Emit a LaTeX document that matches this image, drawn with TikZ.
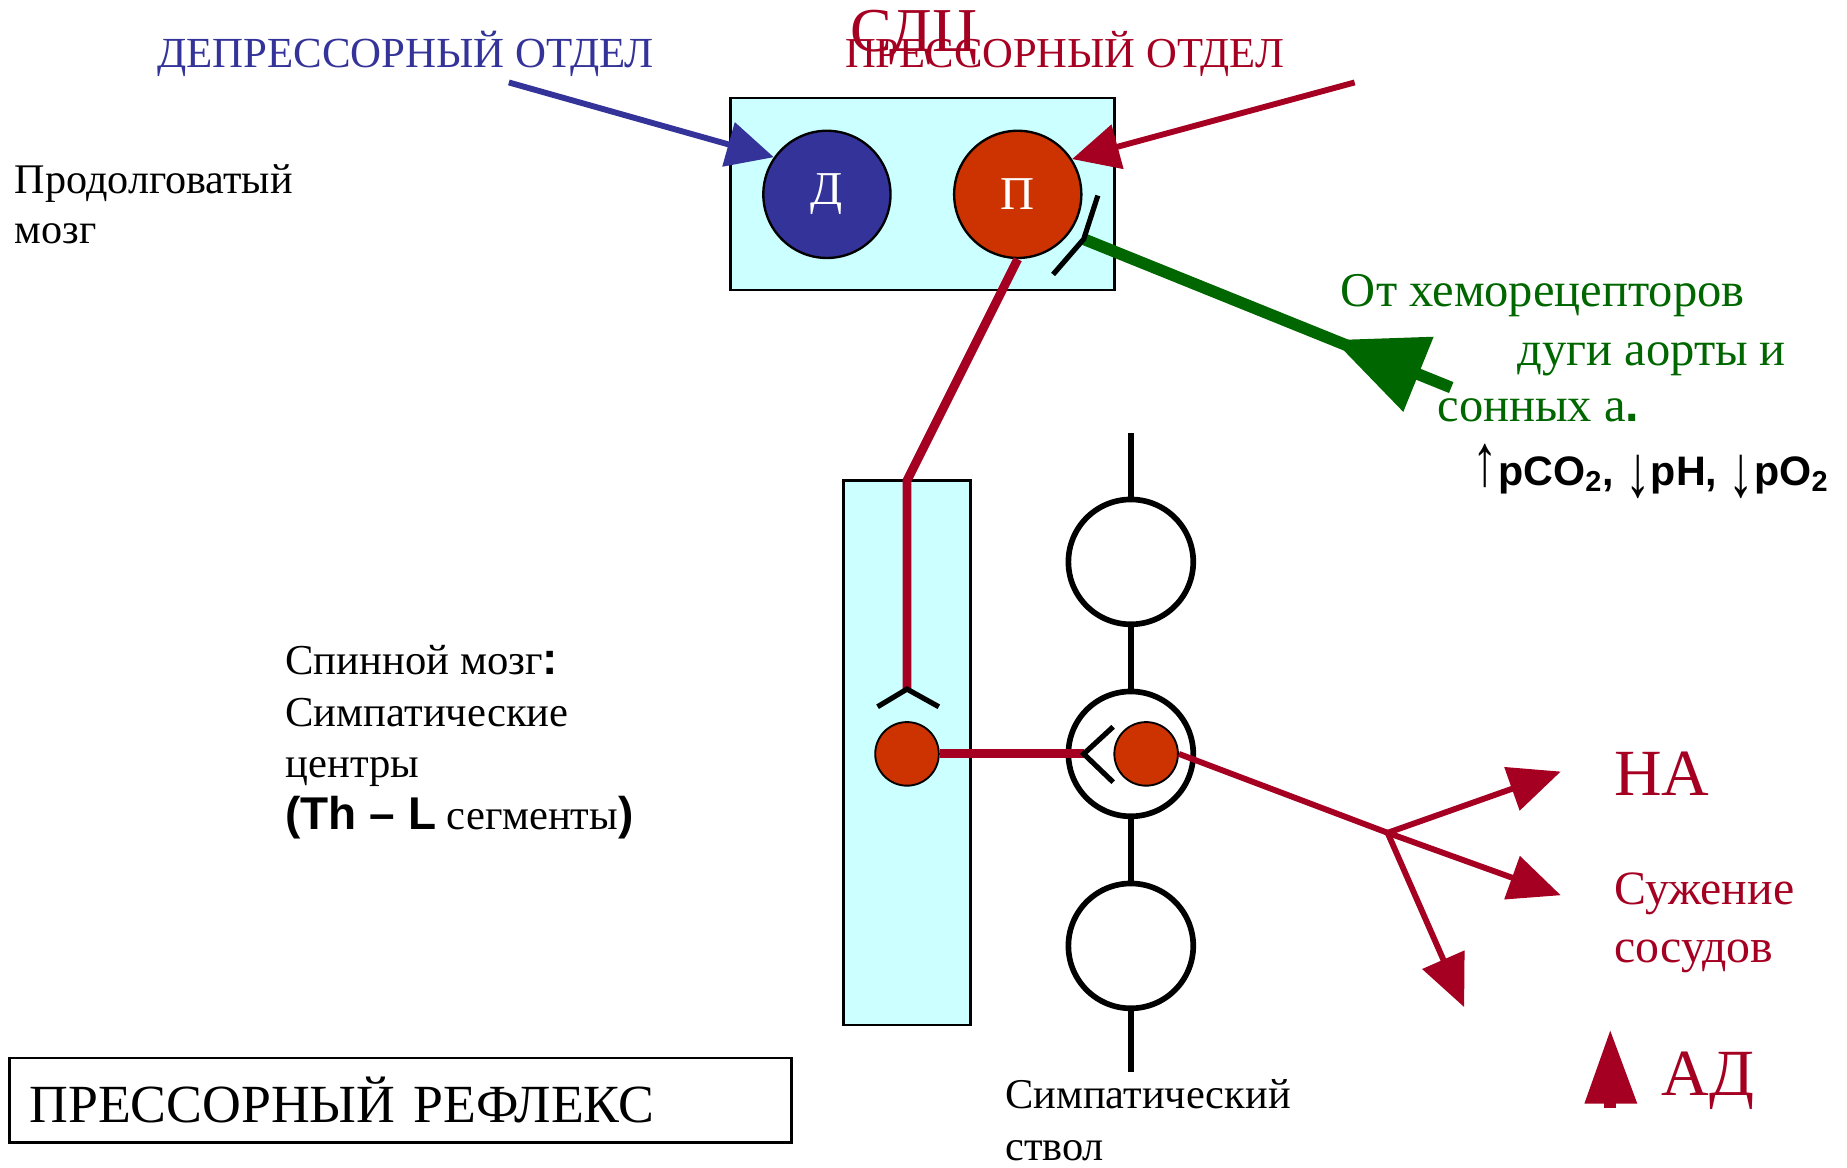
\documentclass[tikz,border=0pt]{standalone}
\usepackage{fontspec}
\setmainfont{Liberation Serif}
\newfontfamily\bsans{Liberation Sans}
\usetikzlibrary{arrows.meta,decorations.markings}
\definecolor{cblue}{HTML}{333399}
\definecolor{cred}{HTML}{A50021}
\definecolor{corange}{HTML}{CC3300}
\definecolor{ccyan}{HTML}{CCFFFF}
\definecolor{cgreen}{HTML}{006600}
\newcommand{\fs}[2]{\fontsize{#1}{#2}\selectfont}
\newcommand{\upar}{{\fs{24}{24}\raisebox{0em}{\scalebox{0.9}[1.3]{↑}}}}
\newcommand{\dnar}{{\fs{24}{24}\raisebox{-0.2em}{\scalebox{0.9}[1.3]{↓}}}}
\begin{document}
\begin{tikzpicture}[x=0.5pt,y=-0.5pt,
  panel/.style={draw=black, line width=1pt, fill=ccyan, inner sep=0pt},
  bigcirc/.style={circle, draw=black, line width=1pt, minimum size=54pt, inner sep=0pt, text=white, font=\fs{20}{22}},
  smallred/.style={circle, draw=black, line width=0.8pt, fill=corange, minimum size=27pt, inner sep=0pt},
  ganglion/.style={circle, draw=black, line width=2.4pt, fill=white, minimum size=53pt, inner sep=0pt},
  nerve/.style={draw=cred, line width=3.8pt},
  efferent/.style={draw=cred, line width=2.5pt, -{Triangle[length=22pt,width=19pt]}},
  synapse/.style={draw=black, line width=2.2pt},
  trunk/.style={draw=black, line width=2.3pt},
  lbl/.style={inner sep=0pt, anchor=base west, align=left}
]
\useasboundingbox (0,0) rectangle (1568,991);

% panels
\node[panel, minimum width=163pt, minimum height=81.5pt] (sdc) at (783,164.5) {};
\node[panel, minimum width=54pt, minimum height=231pt] (spinal) at (770,639) {};

% coordinates
\coordinate (blueStart) at (432,70);
\coordinate (redStart) at (1150,70);
\coordinate (bend) at (770,408);
\coordinate (synT) at (770,585);
\coordinate (synTl) at (745,600);
\coordinate (synTr) at (797,600);
\coordinate (synG) at (920,640);
\coordinate (synGu) at (945,617);
\coordinate (synGd) at (945,664);
\coordinate (pjoin) at (920,203);
\coordinate (pjU) at (932,166);
\coordinate (pjD) at (894,233);
\coordinate (chemo) at (1232,329);
\coordinate (trunkTop) at (960,368);
\coordinate (trunkBot) at (960,910);
\coordinate (J) at (1178,707);
\coordinate (tNA) at (1325,655);
\coordinate (tSV) at (1325,760);
\coordinate (tAD) at (1243,855);

% sympathetic trunk
\node[ganglion] (g1) at (960,477) {};
\node[ganglion] (g2) at (960,640) {};
\node[ganglion] (g3) at (960,803) {};
\draw[trunk] (trunkTop) -- (g1) (g1) -- (g2) (g2) -- (g3) (g3) -- (trunkBot);

% centres
\node[bigcirc, fill=cblue] (D) at (702,165) {Д};
\node[bigcirc, fill=corange] (P) at (864,165) {П};

% nerves
\draw[nerve, line join=round] (P.south) -- (bend) -- (synT);
\node[smallred] (sL) at (770,640) {};
\node[smallred] (sR) at (973,640) {};
\draw[nerve] (sL) -- (synG);
\draw[draw=cred, line width=2.5pt] (sR.east) -- (J);
\draw[efferent] (J) -- (tNA);
\draw[efferent] (J) -- (tSV);
\draw[efferent] (J) -- (tAD);

% synapses
\draw[synapse] (synTl) -- (synT) -- (synTr);
\draw[synapse] (synGu) -- (synG) -- (synGd);

% inputs to SDC
\draw[draw=cblue, line width=2.5pt, -{Triangle[length=20pt,width=19pt]}] (blueStart) -- (D.145);
\draw[draw=cred, line width=2.5pt, -{Triangle[length=20pt,width=19pt]}] (redStart) -- (P.33);
\draw[draw=cgreen, line width=5pt,
  postaction={decorate, decoration={markings, mark=at position 54pt with {\arrow[cgreen]{Triangle[length=39pt,width=33pt]}}}}]
  (chemo) -- (pjoin);
\draw[synapse] (pjU) -- (pjoin) -- (pjD);

% labels
\node[lbl, text=cblue, font=\fs{18.2}{20}] (dep) at (133,57) {ДЕПРЕССОРНЫЙ ОТДЕЛ};
\node[lbl, text=cred, font=\fs{18.1}{20}] (pres) at (717,57) {ПРЕССОРНЫЙ ОТДЕЛ};
\node[lbl, text=cred, font=\fs{26.5}{28}] (sdclbl) at (722,44) {СДЦ};
\node[lbl, font=\fs{17.9}{21.5}] (medulla) at (12,207) {Продолговатый\\мозг};
\node[lbl, font=\fs{18.1}{21.9}] (spinlbl) at (242,704) {Спинной мозг{\bsans\bfseries\fs{19.5}{21.9}:}\\Симпатические\\центры\\{\bsans\bfseries\fs{19.5}{21.9}(Th – L} сегменты{\bsans\bfseries\fs{19.5}{21.9})}};
\node[lbl, text=cgreen, font=\fs{20.6}{25}] (chem1) at (1138,260) {От хеморецепторов};
\node[lbl, text=cgreen, font=\fs{20.6}{25}] (chem2) at (1288,310) {дуги аорты и};
\node[lbl, text=cgreen, font=\fs{20.6}{25}] (chem3) at (1220,358) {сонных а{\bsans\bfseries .}};
\node[lbl, font=\bsans\bfseries\fs{17.5}{19}] (gas) at (1250,412) {\upar pCO\textsubscript{2}, \dnar pH, \dnar pO\textsubscript{2}};
\node[lbl, text=cred, font=\fs{28}{30}] (NA) at (1370,675) {НА};
\node[lbl, text=cred, font=\fs{20.3}{24.5}] (sv) at (1370,817) {Сужение\\сосудов};
\node[lbl, text=cred, font=\fs{28}{30}] (AD) at (1410,930) {АД};
\fill[cred] (1367,875) -- (1390,937) -- (1345,937) -- cycle;
\fill[cred] (1362,936) rectangle (1372,941);
\node[draw=black, line width=1pt, minimum width=332pt, minimum height=36pt, inner xsep=8.5pt, text width=315pt, align=left, font=\fs{22.8}{24}] (title) at (340,934) {ПРЕССОРНЫЙ РЕФЛЕКС};
\node[lbl, font=\fs{18}{22}] (trunklbl) at (853,985) {Симпатический\\ствол};
\end{tikzpicture}
\end{document}
